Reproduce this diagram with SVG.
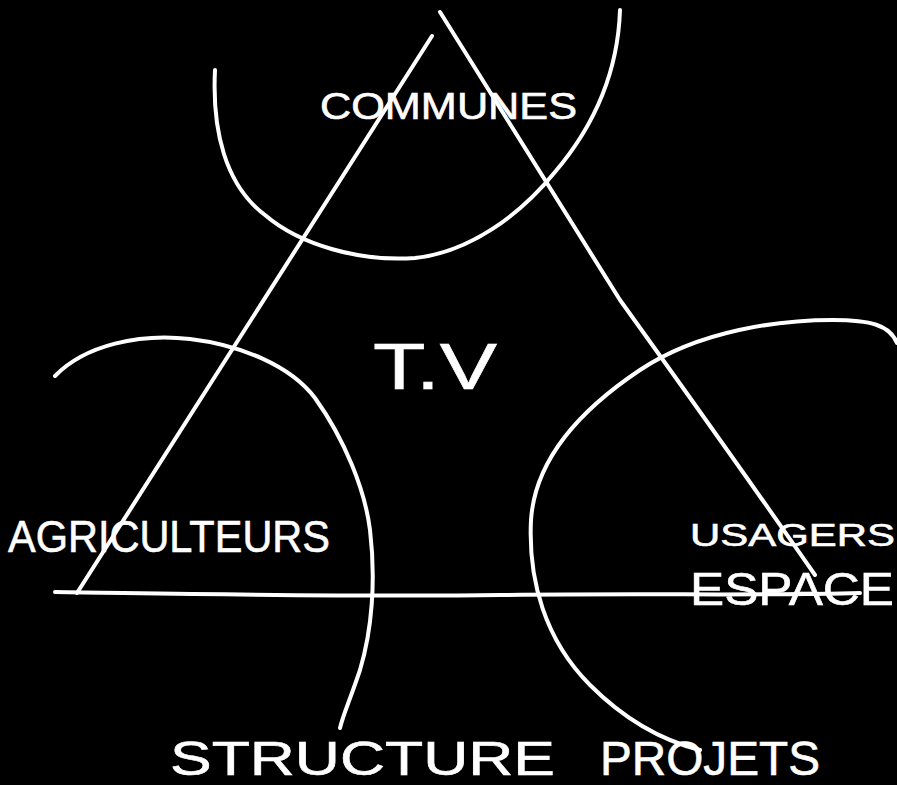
<svg xmlns="http://www.w3.org/2000/svg" width="897" height="785" viewBox="0 0 897 785">
<style>
.ln{fill:none;stroke:#fff;stroke-width:4;stroke-linecap:round;stroke-linejoin:round}
.tx{fill:#fff;stroke:#fff;stroke-width:0.6;font-family:"Liberation Sans","DejaVu Sans",sans-serif;font-weight:normal}
</style>
<rect width="897" height="785" fill="#000"/>
<g id="connectors">
<path class="ln" d="M432,36 L77,593"/>
<path class="ln" d="M440,12 L620,300 Q735,460 815,575"/>
<path class="ln" d="M55,592 C200,594 350,597 500,595 C650,593 760,596 860,593"/>
</g>
<g id="communes">
<path class="ln" d="M215,70 C212,130 225,185 265,215 C300,245 360,262 415,258 C470,252 520,215 555,172 C595,125 618,70 620,10"/>
<text class="tx" x="320" y="119" font-size="36" textLength="257" lengthAdjust="spacingAndGlyphs">COMMUNES</text>
</g>
<g id="tv">
<text class="tx" x="373" y="389" font-size="64" textLength="124" lengthAdjust="spacingAndGlyphs">T.V</text>
</g>
<g id="agriculteurs">
<path class="ln" d="M55,376 C85,345 140,333 190,339 C240,345 290,365 315,398 C345,440 365,490 370,530 C376,580 372,630 360,670 C350,700 343,715 340,728"/>
<text class="tx" x="8" y="552" font-size="44" textLength="322" lengthAdjust="spacingAndGlyphs">AGRICULTEURS</text>
</g>
<g id="usagers">
<path class="ln" d="M897,343 C890,325 870,320 833,320 C780,320 700,330 640,370 C580,410 535,460 531,520 C528,580 545,640 590,685 C625,720 660,740 700,750"/>
<text class="tx" x="690" y="546" font-size="32" textLength="205" lengthAdjust="spacingAndGlyphs">USAGERS</text>
<text class="tx" x="690" y="605" font-size="46" textLength="204" lengthAdjust="spacingAndGlyphs">ESPACE</text>
</g>
<g id="structure">
<text class="tx" x="170" y="775" font-size="48" textLength="385" lengthAdjust="spacingAndGlyphs">STRUCTURE</text>
<text class="tx" x="600" y="775" font-size="48" textLength="220" lengthAdjust="spacingAndGlyphs">PROJETS</text>
</g>
</svg>
